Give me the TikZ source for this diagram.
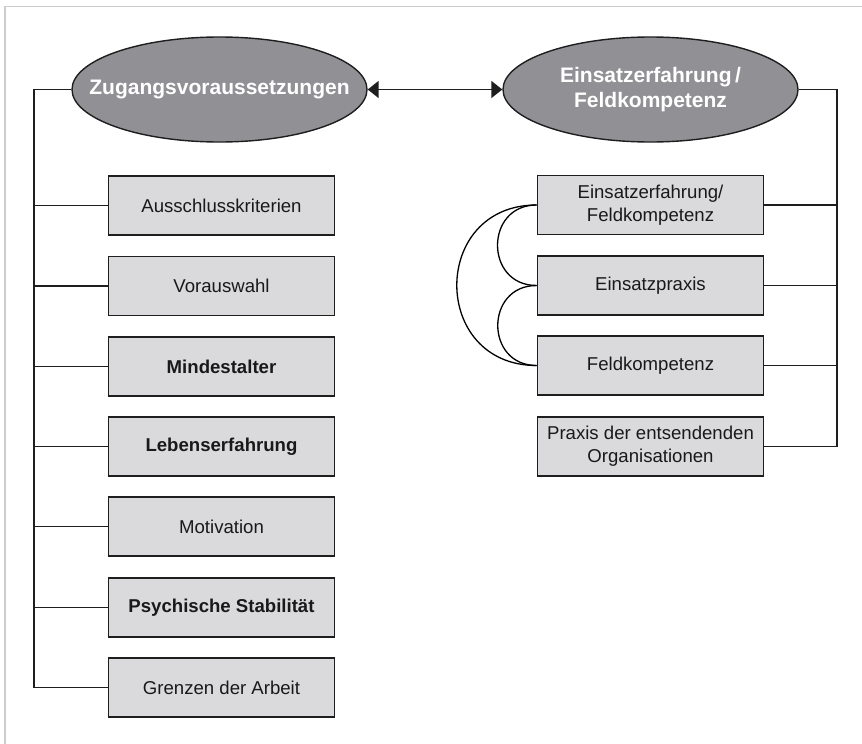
\documentclass[tikz,border=0pt]{standalone}
\usepackage{fontspec}
\setmainfont{Liberation Sans}
\usetikzlibrary{shapes.geometric,arrows.meta}
\definecolor{ellfill}{RGB}{145,144,149}
\definecolor{boxfill}{RGB}{218,218,220}
\definecolor{linec}{RGB}{30,30,30}
\definecolor{framec}{RGB}{204,204,204}
\tikzset{
  oval/.style={ellipse, draw=linec, line width=1.4pt, fill=ellfill, minimum width=295pt, minimum height=105pt, inner sep=0pt},
  ovaltext/.style={text=white, font=\fontsize{21}{25}\selectfont\bfseries, align=center, inner sep=0pt},
  itembox/.style={rectangle, draw=linec, line width=1.8pt, fill=boxfill, minimum width=226pt, minimum height=59pt, inner sep=0pt, text=black!90, font=\fontsize{18.6}{23}\selectfont, align=center},
  conn/.style={draw=linec, line width=1.7pt},
  curve/.style={draw=black, line width=1.3pt},
}
\begin{document}
\begin{tikzpicture}[x=1pt,y=-1pt]
\useasboundingbox (0,0) rectangle (862,744);
\fill[white] (0,0) rectangle (862,744);
\draw[framec, line width=1.8pt] (5,744) -- (5,6.5) -- (862,6.5);

\node[oval] (zv) at (219.5,89.5) {};
\node[ovaltext] (zvt) at (zv.center) {Zugangsvoraussetzungen};
\node[oval] (ef) at (650.5,89.5) {};
\node[ovaltext] (eft) at (ef.center) {Einsatzerfahrung\,/\\Feldkompetenz};

\draw[conn, {Triangle[length=11pt,width=17pt]}-{Triangle[length=11pt,width=17pt]}] (zv.east) -- (ef.west);

\node[itembox] (b1) at (221.5,205.5) {Ausschlusskriterien};
\node[itembox] (b2) at (221.5,286) {Vorauswahl};
\node[itembox] (b3) at (221.5,366.5) {\bfseries Mindestalter};
\node[itembox] (b4) at (221.5,446.5) {\bfseries Lebenserfahrung};
\node[itembox] (b5) at (221.5,526.5) {Motivation};
\node[itembox] (b6) at (221.5,607.5) {\bfseries Psychische Stabilität};
\node[itembox] (b7) at (221.5,687.5) {Grenzen der Arbeit};

\node[itembox] (r1) at (650.5,205) {Einsatzerfahrung/\\Feldkompetenz};
\node[itembox] (r2) at (650.5,285.5) {Einsatzpraxis};
\node[itembox] (r3) at (650.5,365.5) {Feldkompetenz};
\node[itembox] (r4) at (650.5,446.5) {Praxis der entsendenden\\Organisationen};

\coordinate (lb) at (34,0);
\coordinate (rb) at (837,0);

\draw[conn] (zv.west) -- (zv.west -| lb) -- (b7.west -| lb) -- (b7.west);
\foreach \b in {b1,b2,b3,b4,b5,b6}{
  \draw[conn] (\b.west) -- (\b.west -| lb);
}
\draw[conn] (ef.east) -- (ef.east -| rb) -- (r4.east -| rb) -- (r4.east);
\foreach \b in {r1,r2,r3}{
  \draw[conn] (\b.east) -- (\b.east -| rb);
}

\draw[curve] (r1.west) to[out=180,in=180,looseness=1.66] (r2.west);
\draw[curve] (r2.west) to[out=180,in=180,looseness=1.66] (r3.west);
\draw[curve] (r1.west) to[out=180,in=180,looseness=1.7] (r3.west);
\end{tikzpicture}
\end{document}
